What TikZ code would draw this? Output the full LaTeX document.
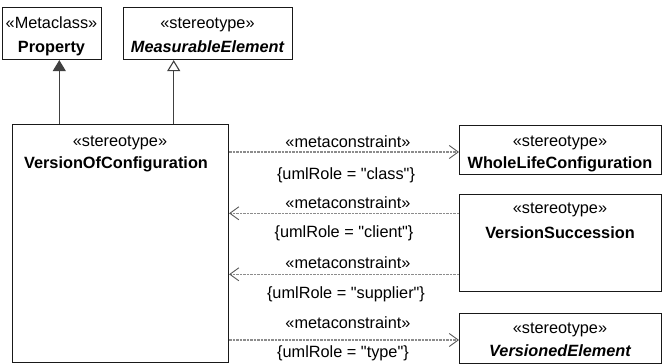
\documentclass[tikz,border=0pt]{standalone}
\usepackage{fontspec}
\setmainfont{Liberation Sans}
\usetikzlibrary{arrows.meta}
\tikzset{
  umlbox/.style={draw=black!90, line width=1.1pt, fill=white, inner sep=0pt},
  txt/.style={anchor=base, inner sep=0pt, font=\fontsize{16.3}{20}\selectfont},
  gen/.style={draw=black!75, line width=1.1pt},
  meta/.style={draw=black!45, line width=1.1pt, dash pattern=on 2.5pt off 1pt,
    -{Straight Barb[length=9pt,width=13pt,line width=0.9pt,color=black!65]}},
}
\newcommand{\qq}{\textquotedbl}
\begin{document}
\begin{tikzpicture}[x=1pt,y=-1pt]
\useasboundingbox (0,0) rectangle (662,364);
% boxes
\node[umlbox, minimum width=99pt, minimum height=52pt, anchor=north west] (prop) at (2,7) {};
\node[umlbox, minimum width=169pt, minimum height=52pt, anchor=north west] (meas) at (123,7) {};
\node[umlbox, minimum width=216pt, minimum height=238pt, anchor=north west] (voc) at (12,124) {};
\node[umlbox, minimum width=202pt, minimum height=49pt, anchor=north west] (wlc) at (459,125) {};
\node[umlbox, minimum width=202pt, minimum height=97pt, anchor=north west] (vs) at (459,194) {};
\node[umlbox, minimum width=202pt, minimum height=50pt, anchor=north west] (ve) at (459,313) {};
% box texts
\node[txt] (propS) at (51.5,28) {«Metaclass»};
\node[txt] (propN) at (51.5,52) {\bfseries Property};
\node[txt] (measS) at (207.5,28) {«stereotype»};
\node[txt] (measN) at (207.5,52) {\bfseries\itshape MeasurableElement};
\node[txt] (vocS) at (120,146) {«stereotype»};
\node[txt] (vocN) at (116,168) {\bfseries VersionOfConfiguration};
\node[txt] (wlcS) at (560,146) {«stereotype»};
\node[txt] (wlcN) at (560,168) {\bfseries WholeLifeConfiguration};
\node[txt] (vsS) at (560,213.5) {«stereotype»};
\node[txt] (vsN) at (560,238) {\bfseries VersionSuccession};
\node[txt] (veS) at (560,333) {«stereotype»};
\node[txt] (veN) at (560,356.5) {\bfseries\itshape VersionedElement};
% generalizations
\draw[gen, -{Triangle[length=11pt,width=13pt,fill=black!75]}] (voc.north -| 59.3,0) -- (prop.south -| 59.3,0);
\draw[gen, -{Triangle[open,length=11pt,width=13pt,fill=white]}] (voc.north -| 173.7,0) -- (meas.south -| 173.7,0);
% metaconstraints
\draw[meta] (voc.east |- 0,152) -- (wlc.west |- 0,152);
\draw[meta] (vs.west |- 0,213.3) -- (voc.east |- 0,213.3);
\draw[meta] (vs.west |- 0,274.3) -- (voc.east |- 0,274.3);
\draw[meta] (voc.east |- 0,340) -- (ve.west |- 0,340);
% labels
\node[txt] (m1) at (348,147) {«metaconstraint»};
\node[txt] (r1) at (346,179) {\{umlRole = \qq class\qq\}};
\node[txt] (m2) at (348,208) {«metaconstraint»};
\node[txt] (r2) at (344,237.5) {\{umlRole = \qq client\qq\}};
\node[txt] (m3) at (348,268) {«metaconstraint»};
\node[txt] (r3) at (346,298) {\{umlRole = \qq supplier\qq\}};
\node[txt] (m4) at (348,328) {«metaconstraint»};
\node[txt] (r4) at (343,357) {\{umlRole = \qq type\qq\}};
\end{tikzpicture}
\end{document}
